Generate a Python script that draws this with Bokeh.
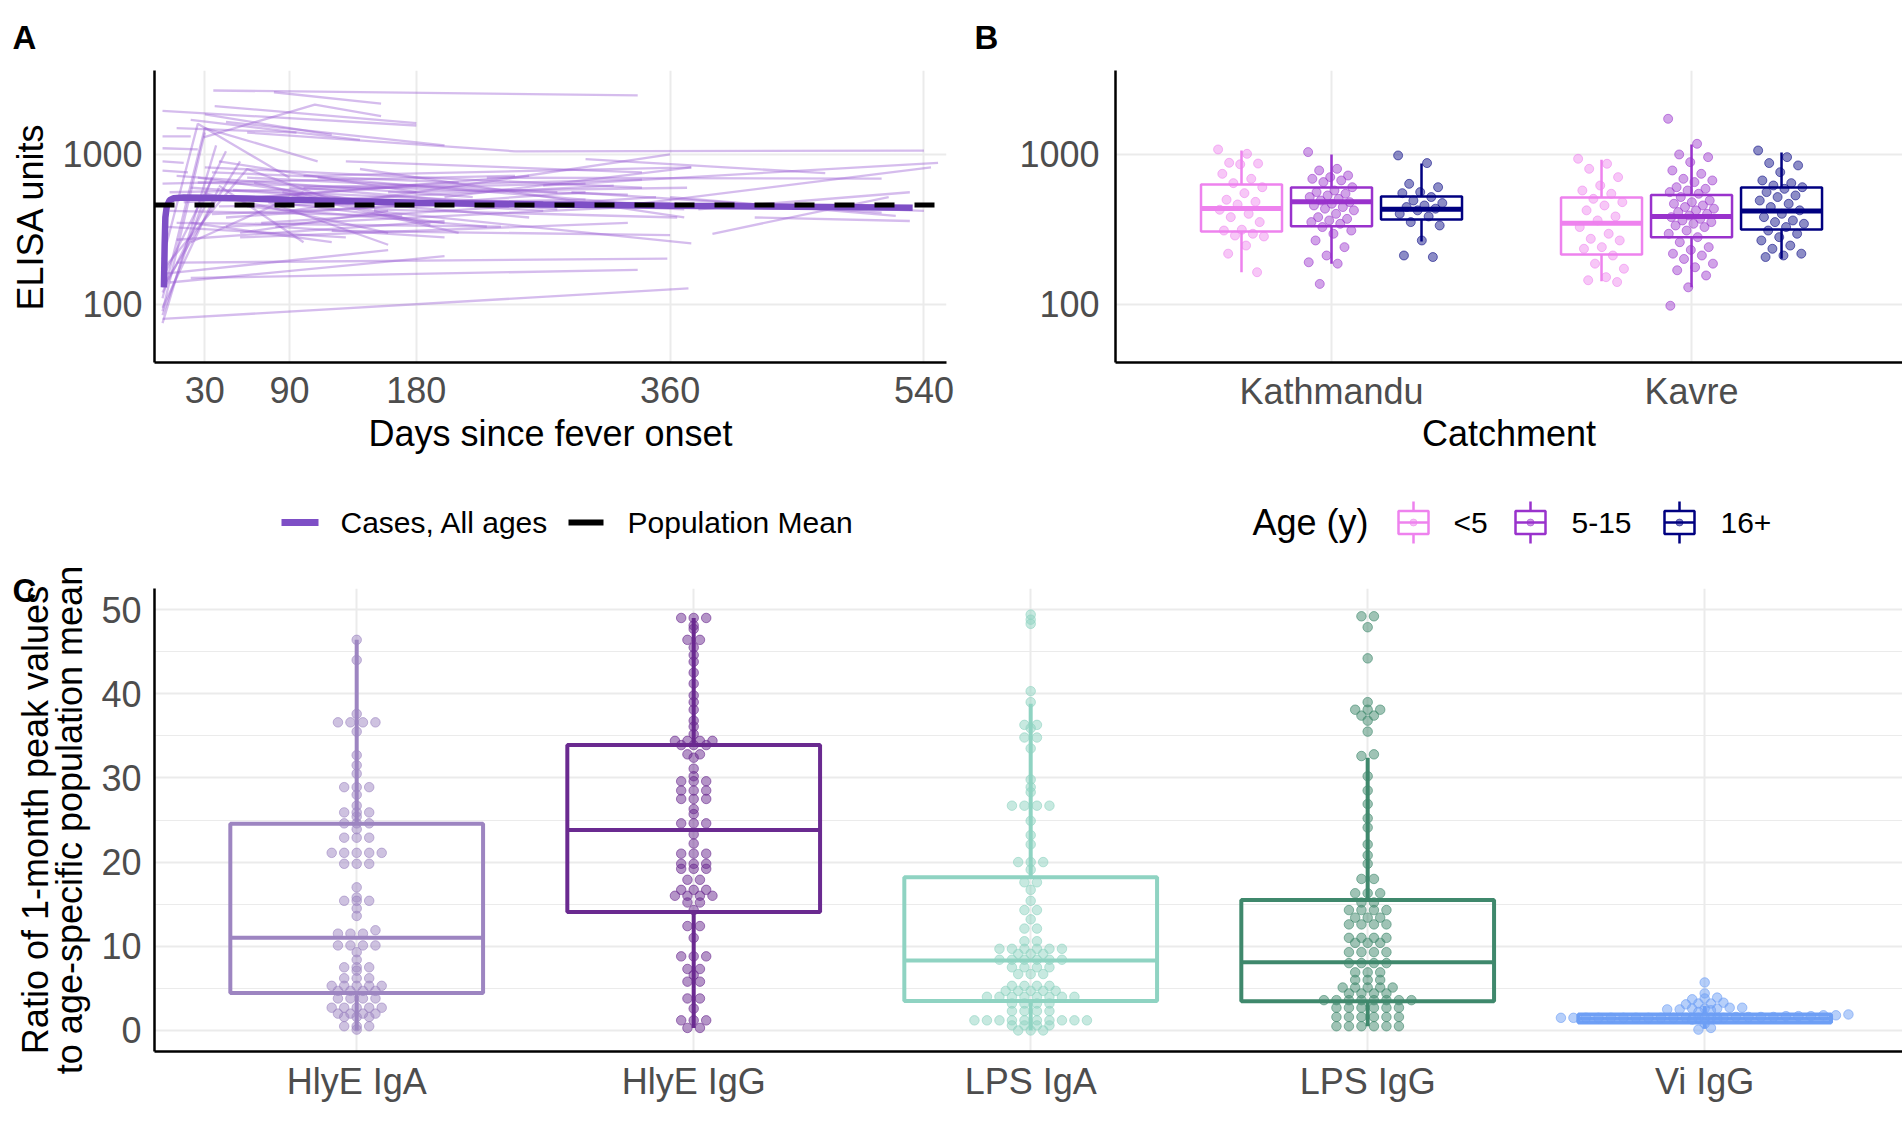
import numpy as np
from bokeh.plotting import figure
from bokeh.models import Range1d, FixedTicker, Span, PrintfTickFormatter
from bokeh.layouts import column, row
from bokeh.embed import file_html
from bokeh.resources import INLINE
from bokeh.core.properties import value

FONT = "Liberation Sans"
TICK_COLOR = "#4D4D4D"
GRID = "#EBEBEB"

# ---------------- Panel A data ----------------
day_ticks = [30, 90, 180, 360, 540]
elisa_ticks = [100, 1000]
subj_days = [
    [36, 337], [79, 155], [0, 180], [37, 180], [29, 108, 155], [20, 140], [10, 95], [45, 200], [60, 250], [30, 120],
    [0, 30], [0, 38], [0, 30, 110], [0, 45], [0, 35], [0, 55], [0, 25, 90], [0, 40], [0, 60, 120], [0, 30],
    [0, 20], [0, 25], [0, 15], [0, 18],
    [0, 250], [5, 300], [10, 220], [20, 270], [30, 340], [40, 180], [25, 150], [50, 200], [60, 230], [15, 180],
    [35, 250], [45, 300], [55, 160], [70, 350], [80, 200], [20, 120], [90, 360], [100, 280], [110, 370], [65, 190],
    [30, 160], [40, 100], [75, 160], [85, 210], [95, 260], [120, 320], [140, 370], [150, 365], [0, 130], [10, 200],
    [0, 373], [20, 337], [10, 358], [0, 160], [5, 200],
    [250, 540], [230, 510], [300, 470], [270, 550], [330, 545], [390, 515], [380, 530], [400, 540], [360, 520],
    [290, 510], [420, 530],
    [100, 375], [150, 375], [120, 360], [200, 375],
    [15, 365], [25, 330], [40, 300], [50, 370], [60, 280], [10, 240], [35, 210], [55, 330], [70, 260], [90, 340],
    [5, 170], [45, 360], [130, 340], [160, 372], [20, 100],
]
subj_vals = [
    [2670, 2480], [2600, 2180], [1950, 1560], [2100, 1620], [1300, 2150, 1800], [1700, 1250], [1500, 1400], [1650, 1150], [1400, 1050], [1850, 1350],
    [90, 1400], [75, 1150], [110, 1500, 900], [150, 1050], [85, 700], [130, 900], [200, 1600, 700], [95, 600], [170, 800, 500], [120, 450],
    [1320, 1320], [1100, 1080], [900, 880], [780, 760],
    [640, 720], [560, 640], [720, 520], [600, 420], [820, 600], [900, 560], [700, 480], [520, 350], [450, 330], [480, 620],
    [400, 480], [380, 560], [300, 420], [350, 520], [330, 280], [350, 260], [420, 1000], [600, 430], [700, 440], [650, 340],
    [550, 300], [620, 260], [480, 250], [560, 300], [520, 380], [500, 620], [800, 380], [430, 380], [330, 280], [270, 360],
    [80, 128], [150, 170], [190, 202], [160, 230], [140, 210],
    [1050, 1060], [700, 690], [930, 750], [620, 880], [460, 820], [296, 520], [430, 560], [470, 420], [520, 390],
    [560, 410], [380, 360],
    [720, 820], [420, 255], [310, 290], [520, 820],
    [520, 470], [650, 540], [450, 500], [580, 430], [700, 560], [350, 330], [760, 650], [280, 350], [520, 720], [600, 680],
    [420, 390], [330, 460], [900, 760], [560, 600], [260, 560],
]
mean_days = [1, 1.5, 2, 3, 5, 8, 15, 30, 60, 90, 180, 270, 360, 450, 532]
mean_vals = [130, 250, 380, 450, 495, 510, 516, 515, 508, 498, 476, 463, 455, 448, 441]
pop_mean = 460

# ---------------- Panel B data ----------------
catchments = ["Kathmandu", "Kavre"]
age_groups = ["<5", "5-15", "16+"]
age_colors = ["#EE82EE", "#9932CC", "#000080"]
# order: Kathmandu <5, 5-15, 16+, Kavre <5, 5-15, 16+
b_lo = [164, 187, 263, 143, 130, 202]
b_q1 = [307, 332, 369, 215, 280, 316]
b_med = [437, 484, 431, 348, 386, 419]
b_q3 = [631, 603, 525, 516, 537, 603]
b_hi = [1064, 1000, 871, 923, 1166, 1031]
ktm_u5 = [1080, 1010, 880, 870, 860, 743, 688, 644, 605, 552, 499, 483, 464, 428, 402, 382, 354, 315, 311, 296,
          288, 284, 247, 218, 164]
ktm_5_15 = [1037, 802, 782, 724, 706, 688, 671, 654, 605, 575, 561, 547, 533, 520, 506, 493, 481, 469, 457, 446,
            435, 424, 402, 382, 372, 363, 354, 345, 328, 311, 296, 267, 241, 212, 191, 187, 137]
ktm_16p = [985, 876, 637, 605, 561, 552, 520, 493, 474, 457, 446, 435, 424, 402, 386, 354, 336, 267, 212, 207]
kav_u5 = [936, 867, 802, 706, 621, 575, 547, 506, 481, 457, 424, 386, 363, 328, 296, 274, 267, 241, 235, 212,
          187, 173, 152, 145, 141]
kav_5_15 = [1729, 1178, 1000, 960, 889, 782, 743, 688, 671, 654, 605, 590, 575, 561, 547, 520, 493, 481, 469, 457,
            446, 435, 424, 413, 402, 392, 382, 372, 363, 354, 345, 336, 328, 311, 296, 281, 260, 241, 231, 218,
            212, 201, 187, 177, 169, 156, 130, 98]
kav_16p = [1063, 960, 876, 845, 762, 671, 644, 621, 605, 590, 561, 533, 520, 493, 469, 446, 424, 402, 382, 363,
           354, 345, 328, 311, 296, 281, 267, 247, 235, 218, 212, 207]
b_points = [ktm_u5, ktm_5_15, ktm_16p, kav_u5, kav_5_15, kav_16p]

# ---------------- Panel C data ----------------
antigens = ["HlyE IgA", "HlyE IgG", "LPS IgA", "LPS IgG", "Vi IgG"]
c_colors = ["#9D85C1", "#6A2A90", "#8FD3C2", "#3F886C", "#6E9FF5"]
c_lo = [0.0, 0.3, 0.0, 0.5, 0.2]
c_q1 = [4.46, 14.07, 3.5, 3.46, 0.95]
c_med = [11.0, 23.8, 8.3, 8.1, 1.4]
c_q3 = [24.55, 33.9, 18.2, 15.5, 1.9]
c_hi = [46.4, 49.0, 38.8, 32.4, 2.9]
c_ticks = [0, 10, 20, 30, 40, 50]
hlye_iga = [46.4, 44.0, 37.6, 36.6, 36.6, 36.6, 36.6, 35.5, 32.7, 31.5, 30.5, 28.9, 28.9, 28.9, 28.0, 26.7,
            25.9, 25.9, 25.9, 25.4, 24.6, 24.6, 24.6, 23.9, 22.9, 22.9, 22.9, 21.1, 21.1, 21.1, 21.1, 21.1,
            19.8, 19.8, 19.8, 17.0, 15.8, 15.4, 15.4, 15.4, 14.5, 13.6, 11.9, 11.5, 11.5, 11.5, 10.1, 10.1,
            10.1, 10.1, 9.3, 8.4, 7.5, 7.5, 7.5, 7.1, 6.2, 6.2, 6.2, 5.3, 5.3, 5.3, 5.3, 5.3, 4.7, 4.7, 4.7,
            4.7, 3.8, 3.8, 3.8, 3.8, 2.7, 2.7, 2.7, 2.7, 2.7, 2.0, 2.0, 2.0, 2.0, 1.6, 1.6, 1.6, 0.5, 0.5,
            0.5, 0.1]
hlye_igg = [49.0, 49.0, 49.0, 48.1, 47.7, 46.4, 46.4, 45.5, 44.6, 43.8, 42.5, 41.2, 39.8, 39.0, 38.1, 36.8,
            36.1, 35.2, 34.4, 34.4, 34.4, 34.4, 33.9, 33.9, 33.9, 32.8, 32.8, 32.4, 31.1, 30.2, 29.6, 29.6,
            29.6, 28.5, 28.5, 28.5, 27.5, 27.5, 27.5, 26.3, 25.7, 24.6, 24.6, 24.6, 23.3, 22.2, 21.0, 21.0,
            21.0, 19.8, 19.8, 19.8, 19.2, 19.2, 19.2, 17.9, 17.9, 16.7, 16.7, 16.7, 16.0, 16.0, 16.0, 16.0,
            15.2, 15.2, 14.3, 12.4, 12.4, 11.0, 8.8, 8.8, 8.8, 7.3, 7.3, 6.6, 5.8, 5.8, 3.8, 3.8, 2.6, 1.2,
            1.2, 1.2, 0.3, 0.3]
lps_iga = [49.4, 48.8, 48.3, 40.3, 39.0, 36.3, 36.3, 35.9, 34.8, 34.8, 33.5, 29.8, 28.9, 28.3, 26.7, 26.7,
           26.7, 26.7, 24.9, 23.2, 22.1, 20.0, 20.0, 20.0, 19.1, 17.6, 17.6, 16.7, 15.4, 14.3, 14.3, 13.2,
           12.1, 12.1, 10.6, 10.6, 9.7, 9.7, 9.7, 9.7, 9.7, 9.7, 9.1, 9.1, 9.1, 8.4, 8.4, 8.4, 8.4, 8.4, 8.4,
           7.5, 7.5, 7.5, 7.5, 6.7, 6.7, 6.7, 5.3, 5.3, 5.3, 5.3, 4.7, 4.7, 4.7, 4.7, 4.7, 4.0, 4.0, 4.0, 4.0,
           4.0, 4.0, 4.0, 4.0, 3.2, 3.2, 3.2, 3.2, 2.3, 2.3, 2.3, 2.3, 1.2, 1.2, 1.2, 1.2, 1.2, 1.2, 1.2, 1.2,
           1.2, 1.2, 0.6, 0.6, 0.6, 0.6, 0.0, 0.0, 0.0]
lps_igg = [49.2, 49.2, 47.9, 44.2, 39.0, 38.1, 38.1, 38.1, 37.4, 37.4, 36.8, 35.5, 32.8, 32.6, 30.2, 28.5,
           26.9, 25.2, 24.1, 22.1, 20.8, 19.8, 18.0, 18.0, 16.3, 16.3, 16.3, 15.2, 15.2, 14.3, 14.3, 14.3,
           14.3, 13.4, 13.4, 13.4, 12.6, 12.6, 12.6, 12.6, 11.0, 11.0, 11.0, 11.0, 10.4, 10.4, 10.4, 9.3, 9.3,
           9.3, 9.3, 8.0, 8.0, 8.0, 8.0, 6.9, 6.9, 6.9, 6.0, 6.0, 6.0, 5.1, 5.1, 5.1, 5.1, 5.1, 4.4, 4.4, 4.4,
           4.4, 3.6, 3.6, 3.6, 3.6, 3.6, 3.6, 3.6, 3.6, 2.7, 2.7, 2.7, 2.7, 2.7, 2.7, 1.6, 1.6, 1.6, 1.6, 1.6,
           1.6, 0.5, 0.5, 0.5, 0.5, 0.5, 0.5]
vi_igg = [5.7, 4.4, 3.9, 3.8, 3.7, 3.3, 3.2, 3.1, 3.2, 2.7, 2.6, 2.6, 2.5, 2.6, 2.7, 2.5, 2.4, 2.2,
          1.9, 1.8, 1.8, 1.7, 1.7, 1.7, 1.6, 1.6, 1.6, 1.6, 1.5, 1.5, 1.5, 1.5, 1.5, 1.5, 1.5, 1.5, 1.5,
          1.5, 1.5, 1.5, 1.5, 1.5, 1.4, 1.4, 1.3, 0.8, 0.3, 0.1]
c_points = [hlye_iga, hlye_igg, lps_iga, lps_igg, vi_igg]


def style(p, xstand=9, ystand=12):
    p.outline_line_color = None
    p.background_fill_color = "white"
    p.border_fill_color = "white"
    for ax in p.axis:
        ax.axis_line_color = "black"
        ax.axis_line_width = 2.5
        ax.major_tick_line_color = None
        ax.minor_tick_line_color = None
        ax.major_tick_out = 0
        ax.major_tick_in = 0
        ax.minor_tick_out = 0
        ax.minor_tick_in = 0
        ax.major_label_text_font = FONT
        ax.major_label_text_font_size = "36px"
        ax.major_label_text_color = TICK_COLOR
        ax.axis_label_text_font = FONT
        ax.axis_label_text_font_size = "36px"
        ax.axis_label_text_font_style = "normal"
        ax.axis_label_text_color = "black"
    p.xaxis.major_label_standoff = xstand
    p.yaxis.major_label_standoff = ystand
    p.grid.grid_line_color = GRID
    p.grid.grid_line_width = 2


def panel_letter(p, letter, offset, standoff, valign="bottom"):
    t = p.title
    t.text = letter
    t.align = "left"
    t.vertical_align = valign
    t.offset = offset
    t.text_font = FONT
    t.text_font_size = "33px"
    t.text_font_style = "bold"
    t.text_color = "black"
    t.standoff = standoff


# ---------------- Panel A ----------------
pA = figure(width=958, height=475, y_axis_type="log",
            x_range=Range1d(-5.7, 556), y_range=Range1d(41, 3630),
            min_border_left=154, min_border_right=12, min_border_top=70, min_border_bottom=113,
            output_backend="svg", toolbar_location=None)
style(pA, 14, 12)
panel_letter(pA, "A", -142, 26, "top")
pA.xaxis.ticker = FixedTicker(ticks=day_ticks)
pA.yaxis.ticker = FixedTicker(ticks=elisa_ticks)
pA.yaxis.formatter = PrintfTickFormatter(format="%d")
pA.xaxis.axis_label = "Days since fever onset"
pA.yaxis.axis_label = "ELISA units"
pA.xaxis.axis_label_standoff = 7
pA.yaxis.axis_label_standoff = 8
pA.multi_line(xs=subj_days, ys=subj_vals, line_color="#9C5FD4", line_alpha=0.42, line_width=2.3)
pA.line(mean_days, mean_vals, line_color="#7E4FC6", line_width=6.5)
pA.add_layout(Span(location=pop_mean, dimension="width", line_color="black",
                   line_width=5, line_dash="20 20"))

# ---------------- Panel B ----------------
pB = figure(width=944, height=475, y_axis_type="log",
            x_range=Range1d(0.4, 2.586), y_range=Range1d(41, 3630),
            min_border_left=157, min_border_right=0, min_border_top=70, min_border_bottom=113,
            output_backend="svg", toolbar_location=None)
style(pB, 8, 16)
panel_letter(pB, "B", -141, 26, "top")
pB.xaxis.ticker = FixedTicker(ticks=[1, 2])
pB.xaxis.major_label_overrides = {1: catchments[0], 2: catchments[1]}
pB.yaxis.ticker = FixedTicker(ticks=elisa_ticks)
pB.yaxis.formatter = PrintfTickFormatter(format="%d")
pB.xaxis.axis_label = "Catchment"
pB.xaxis.axis_label_standoff = -2
dodge = [-0.25, 0.0, 0.25]
bw = 0.225
for ci in range(len(catchments)):
    for gi in range(len(age_groups)):
        k = ci * len(age_groups) + gi
        xc = ci + 1 + dodge[gi]
        col = age_colors[gi]
        pB.segment(x0=[xc, xc], x1=[xc, xc], y0=[b_q3[k], b_q1[k]], y1=[b_hi[k], b_lo[k]],
                   line_color=col, line_width=2.5)
        pB.quad(left=[xc - bw / 2], right=[xc + bw / 2], bottom=[b_q1[k]], top=[b_q3[k]],
                fill_color=None, line_color=col, line_width=2.5)
        pB.segment(x0=[xc - bw / 2], x1=[xc + bw / 2], y0=[b_med[k]], y1=[b_med[k]],
                   line_color=col, line_width=5)
        vals = b_points[k]
        jit = [((i * 0.618034) % 1 - 0.5) * 0.13 for i in range(len(vals))]
        pB.scatter(x=[xc + j for j in jit], y=vals, size=9, fill_color=col, fill_alpha=0.45,
                   line_color=col, line_alpha=0.55)

# ---------------- Legend row ----------------
LEG_H = 70
legf = figure(width=1902, height=LEG_H, x_range=Range1d(154, 1902), y_range=Range1d(0, LEG_H),
              min_border_left=154, min_border_right=0, min_border_top=0, min_border_bottom=0,
              x_axis_location=None, y_axis_location=None, output_backend="svg", toolbar_location=None)
legf.grid.visible = False
legf.outline_line_color = None
ly = 23
legf.segment(x0=[281], x1=[318], y0=[ly], y1=[ly], line_color="#7E4FC6", line_width=7)
legf.segment(x0=[568], x1=[603], y0=[ly], y1=[ly], line_color="black", line_width=6)
legf.text(x=[340, 627], y=[ly, ly], text=["Cases, All ages", "Population Mean"],
          text_font=value(FONT), text_font_size="30px", text_baseline="middle", text_align="left",
          text_color="black")
legf.text(x=[1252], y=[ly], text=["Age (y)"], text_font=value(FONT), text_font_size="36px",
          text_baseline="middle", text_align="left", text_color="black")
key_x = [1413, 1530, 1679]
lab_x = [1453, 1571, 1720]
for gi in range(len(age_groups)):
    col = age_colors[gi]
    xk = key_x[gi]
    legf.segment(x0=[xk, xk], x1=[xk, xk], y0=[ly + 11.5, ly - 11.5], y1=[ly + 21, ly - 21],
                 line_color=col, line_width=2.5)
    legf.quad(left=[xk - 15], right=[xk + 15], bottom=[ly - 11.5], top=[ly + 11.5],
              fill_color="white", line_color=col, line_width=2.5)
    legf.segment(x0=[xk - 15], x1=[xk + 15], y0=[ly], y1=[ly], line_color=col, line_width=2.5)
    legf.scatter(x=[xk], y=[ly], size=7, fill_color=col, fill_alpha=0.5, line_color=col, line_alpha=0.5)
legf.text(x=lab_x, y=[ly] * 3, text=age_groups, text_font=value(FONT), text_font_size="30px",
          text_baseline="middle", text_align="left", text_color="black")

# ---------------- Panel C ----------------
pC = figure(width=1902, height=601, x_range=Range1d(0.4, 5.587), y_range=Range1d(-2.5, 52.5),
            min_border_left=154, min_border_right=0, min_border_top=43, min_border_bottom=95,
            output_backend="svg", toolbar_location=None)
style(pC, 9, 13)
panel_letter(pC, "C", -142, -40)
pC.xaxis.ticker = FixedTicker(ticks=[1, 2, 3, 4, 5])
pC.xaxis.major_label_overrides = {i + 1: a for i, a in enumerate(antigens)}
pC.yaxis.ticker = FixedTicker(ticks=c_ticks, minor_ticks=[5, 15, 25, 35, 45])
pC.ygrid.minor_grid_line_color = GRID
pC.ygrid.minor_grid_line_width = 1.2
pC.yaxis.axis_label = "Ratio of 1-month peak values\nto age-specific population mean"
pC.yaxis.axis_label_text_line_height = 0.85
pC.yaxis.axis_label_standoff = 8
cbw = 0.75
dot_step = 12.5 / 337.0


def dot_offsets(vals, binw, step):
    v = np.asarray(vals, float)
    bins = np.floor(v / binw + 1e-9).astype(int)
    offs = np.zeros(len(v))
    for b in np.unique(bins):
        idx = np.where(bins == b)[0]
        idx = idx[np.argsort(v[idx], kind="stable")]
        n = len(idx)
        offs[idx] = (np.arange(n) - (n - 1) / 2.0) * step
    return offs


for i in range(len(antigens)):
    xc = i + 1
    col = c_colors[i]
    pC.segment(x0=[xc, xc], x1=[xc, xc], y0=[c_q3[i], c_q1[i]], y1=[c_hi[i], c_lo[i]],
               line_color=col, line_width=4)
    pC.quad(left=[xc - cbw / 2], right=[xc + cbw / 2], bottom=[c_q1[i]], top=[c_q3[i]],
            fill_color=None, line_color=col, line_width=4)
    pC.segment(x0=[xc - cbw / 2], x1=[xc + cbw / 2], y0=[c_med[i]], y1=[c_med[i]],
               line_color=col, line_width=4)
    vals = c_points[i]
    offs = dot_offsets(vals, 0.5, dot_step)
    pC.scatter(x=xc + offs, y=vals, size=9.5, fill_color=col, fill_alpha=0.5,
               line_color=col, line_alpha=0.6)

layout = column(row(pA, pB), legf, pC)
open("out.html", "w").write(file_html(layout, INLINE, title="chart"))
